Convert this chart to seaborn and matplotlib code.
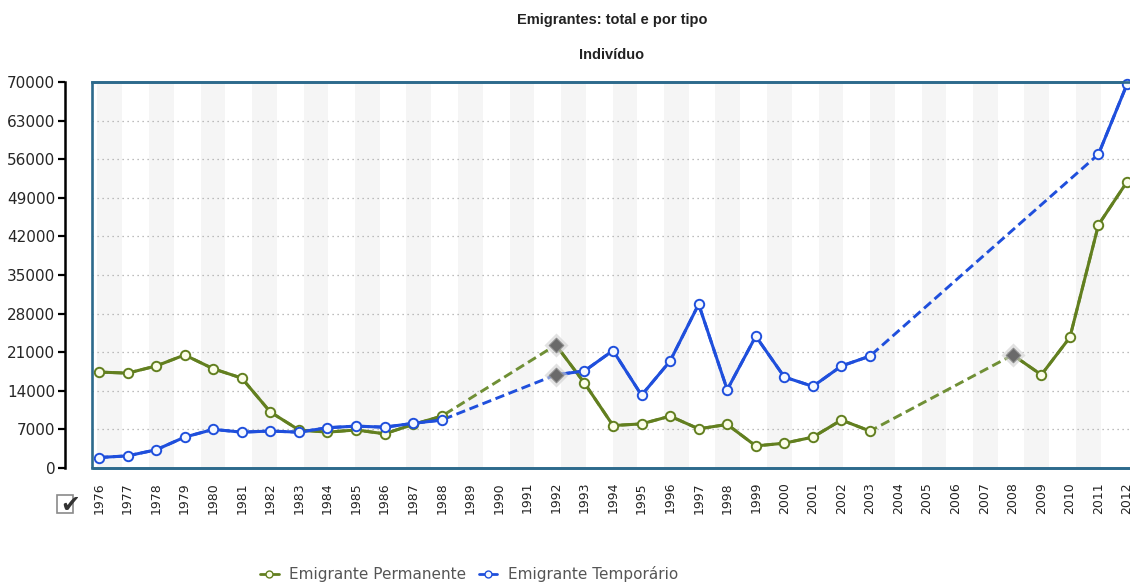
import numpy as np
import pandas as pd
import matplotlib
matplotlib.use('Agg')
import matplotlib.pyplot as plt
from matplotlib.patches import Rectangle
from matplotlib.lines import Line2D
import seaborn as sns

# ##data
anos = list(range(1976, 2013))
nan = np.nan
permanente = [17400, 17200, 18500, 20500, 18000, 16300, 10150, 6900, 6500, 6900, 6200, 7900, 9400,
              nan, nan, nan,
              22300, 15400, 7700, 8000, 9400, 7100, 7900, 4000, 4500, 5600, 8700, 6700,
              nan, nan, nan, nan,
              20500, 16900, 23700, 44100, 51900]
temporario = [1900, 2200, 3300, 5600, 7000, 6500, 6700, 6500, 7300, 7600, 7400, 8100, 8700,
              nan, nan, nan,
              16900, 17600, 21300, 13200, 19400, 29700, 14200, 23900, 16500, 14800, 18500, 20300,
              nan, nan, nan, nan, nan, nan, nan,
              56900, 69600]
# points drawn as grey diamonds in the original
diamantes_perm = [1992, 2008]
diamantes_temp = [1992]
y_ticks = list(range(0, 70001, 7000))

titulo = "Emigrantes: total e por tipo"
subtitulo = "Indivíduo"
nomes = ["Emigrante Permanente", "Emigrante Temporário"]

verde = '#627f1f'
verde_trac = '#6f8f35'
azul = '#1f4fdc'
teal = '#2d6a8c'

sns.set_theme(style='white')
plt.rcParams['font.family'] = ['DejaVu Sans']

W, H = 1130, 583
fig = plt.figure(figsize=(W / 100, H / 100), dpi=100)
# pixel helpers
px_l, px_r, px_t, px_b = 92, 1135, 82, 468
ax = fig.add_axes([px_l / W, 1 - px_b / H, (px_r - px_l) / W, (px_b - px_t) / H])

px_ano = 28.556  # pixels per year
x0 = 1976 - (99 - px_l) / px_ano
x1 = 1976 + (px_r - 99) / px_ano
ax.set_xlim(x0, x1)
ax.set_ylim(0, 70000)

# alternating light bands in the background
c = 110
while c < px_r:
    a = 1976 + (c - 12.5 - 99) / px_ano
    b = 1976 + (c + 12.5 - 99) / px_ano
    ax.axvspan(a, b, color='#f5f5f5', lw=0, zorder=0)
    c += 51.5

ax.yaxis.grid(True, linestyle=(0, (1, 3)), color='#a8a8a8', lw=0.9, zorder=1)
ax.set_axisbelow(True)


def desenha(valores, cor, cor_trac, fundo, diamantes):
    df = pd.DataFrame({'ano': anos, 'valor': valores})
    df['seg'] = df['valor'].isna().cumsum()
    ok = df.dropna()
    # dashed line across missing years
    sns.lineplot(data=ok, x='ano', y='valor', estimator=None, color=cor_trac, lw=2.1,
                 linestyle=(0, (3.2, 1.6)), ax=ax, legend=False, zorder=2)
    # solid segments
    sns.lineplot(data=ok, x='ano', y='valor', units='seg', estimator=None, color=cor,
                 lw=2.2, ax=ax, legend=False, zorder=3)
    circ = ok[~ok['ano'].isin(diamantes)]
    diam = ok[ok['ano'].isin(diamantes)]
    sns.scatterplot(data=circ, x='ano', y='valor', marker='o', s=46, color=fundo,
                    edgecolor=cor, linewidth=1.4, ax=ax, legend=False, zorder=4, clip_on=False)
    sns.scatterplot(data=diam, x='ano', y='valor', marker='D', s=150, color='#cfcfcf',
                    alpha=0.6, linewidth=0, ax=ax, legend=False, zorder=4)
    sns.scatterplot(data=diam, x='ano', y='valor', marker='D', s=55, color='#6a6a6a',
                    edgecolor='#8c8c8c', linewidth=0.8, ax=ax, legend=False, zorder=5)


desenha(permanente, verde, verde_trac, '#fbfde8', diamantes_perm)
desenha(temporario, azul, azul, '#f4f8ff', diamantes_temp)

ax.set_xlabel('')
ax.set_ylabel('')
ax.set_xticks(anos)
ax.set_xticklabels([str(a) for a in anos], rotation=90, fontsize=9, color='#222222')
ax.tick_params(axis='x', length=0, pad=10)
ax.set_yticks(y_ticks)
ax.set_yticklabels([str(v) for v in y_ticks], fontsize=9.5, color='#222222')
ax.tick_params(axis='y', left=True, length=5, width=1.6, color='black', direction='out', pad=2)

# black y axis set apart, teal frame around the plot area
for s in ['top', 'right', 'bottom']:
    ax.spines[s].set_color(teal)
    ax.spines[s].set_linewidth(1.9)
ax.spines['left'].set_position(('outward', 19.5))
ax.spines['left'].set_color('black')
ax.spines['left'].set_linewidth(1.8)
ax.add_patch(Rectangle((0, 0), 1, 1, transform=ax.transAxes, fill=False,
                       edgecolor=teal, lw=1.9, clip_on=False, zorder=6))

# titles
fig.text(612 / W, 1 - 20 / H, titulo, ha='center', va='center', fontsize=10.5,
         fontweight='bold', family=['Liberation Sans'], color='#222222')
fig.text(612 / W, 1 - 55 / H, subtitulo, ha='center', va='center', fontsize=10.5,
         fontweight='bold', family=['Liberation Sans'], color='#222222')

# checkbox
fig.add_artist(Rectangle((57 / W, 1 - 513 / H), 16 / W, 18 / H, transform=fig.transFigure,
                         facecolor='white', edgecolor='#8a8a8a', lw=1.2))
fig.text(70 / W, 1 - 505 / H, '✔', ha='center', va='center', fontsize=17, color='#333333')

# legend
handles = [Line2D([0], [0], color=verde, lw=2, marker='o', markersize=5,
                  markerfacecolor='#fbfde8', markeredgecolor=verde),
           Line2D([0], [0], color=azul, lw=2, marker='o', markersize=5,
                  markerfacecolor='#f4f8ff', markeredgecolor=azul)]
fig.legend(handles, nomes, loc='center', bbox_to_anchor=(469 / W, 1 - 574 / H), ncol=2,
           frameon=False, fontsize=11, handlelength=1.2, handletextpad=0.7,
           columnspacing=0.8, labelcolor='#555555')

fig.savefig('out.png', dpi=100)
